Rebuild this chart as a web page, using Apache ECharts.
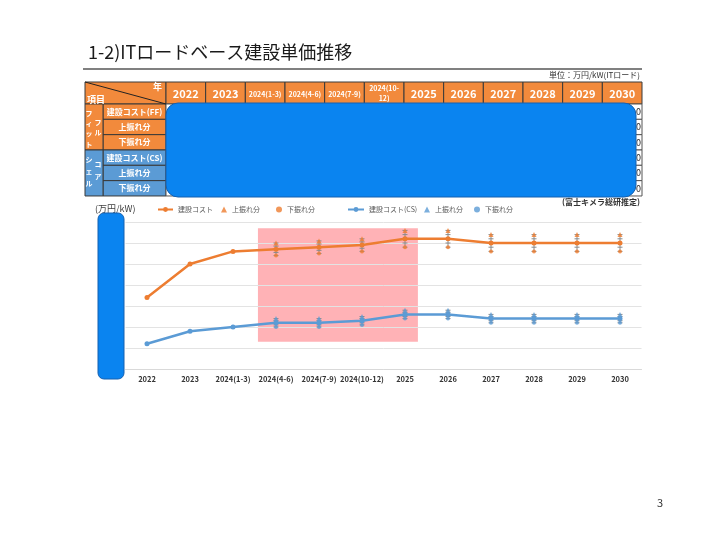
<!DOCTYPE html>
<html><head><meta charset="utf-8">
<script src="https://cdn.jsdelivr.net/npm/echarts@6/dist/echarts.min.js"></script>
<style>html,body{margin:0;padding:0;background:#fff}#c{width:720px;height:540px}</style>
</head><body><div id="c"></div>
<script>
const categories = ['2022','2023','2024(1-3)','2024(4-6)','2024(7-9)','2024(10-12)','2025','2026','2027','2028','2029','2030'];
const ffCost  = [170,250,280,285,290,295,310,310,300,300,300,300];
const ffUpper = [null,null,null,300,305,310,330,330,320,320,320,320];
const ffLower = [null,null,null,270,275,280,290,290,280,280,280,280];
const csCost  = [60,90,100,110,110,115,130,130,120,120,120,120];
const csUpper = [null,null,null,120,120,125,140,140,130,130,130,130];
const csLower = [null,null,null,100,100,105,120,120,110,110,110,110];
const yTicks = [0,50,100,150,200,250,300,350];
const tableHeaders = ['2022','2023','2024(1-3)','2024(4-6)','2024(7-9)','2024(10-12)','2025','2026','2027','2028','2029','2030'];
const rowLabels = ['建設コスト(FF)','上振れ分','下振れ分','建設コスト(CS)','上振れ分','下振れ分'];
const lastColText = ['0','0','0','0','0','0'];
const highlight = [[3, 6, 335, 65]];

const FONT = '"Noto Sans CJK JP", "Noto Sans", sans-serif';
const ORANGE = '#ED7D31', BLUE = '#5B9BD5';
const T_OR = '#F28A3C', T_BL = '#5B9BD5';

const chart = echarts.init(document.getElementById('c'));

// ---------- table graphics ----------
const g = [];
const tx0 = 85, tLabelX = 103, tBodyX = 166, tRight = 642, tTop = 82, tHeadH = 22, rowH = 15.33;
const colW = (tRight - tBodyX) / tableHeaders.length;
const border = '#3a3a3a';
g.push({type:'rect', z:10, shape:{x:tx0,y:tTop,width:tBodyX-tx0,height:tHeadH}, style:{fill:T_OR,stroke:border,lineWidth:1}});
g.push({type:'line', z:11, shape:{x1:tx0,y1:tTop,x2:tBodyX,y2:tTop+tHeadH}, style:{stroke:'#222',lineWidth:1}});
g.push({type:'text', z:12, style:{x:tBodyX-4,y:tTop+5,text:'年',fill:'#fff',font:'bold 9px '+FONT,textAlign:'right',textVerticalAlign:'middle'}});
g.push({type:'text', z:12, style:{x:tx0+2,y:tTop+tHeadH-4,text:'項目',fill:'#fff',font:'bold 9px '+FONT,textAlign:'left',textVerticalAlign:'middle'}});
tableHeaders.forEach((h,i)=>{
  const x = tBodyX + i*colW;
  g.push({type:'rect', z:10, shape:{x:x,y:tTop,width:colW,height:tHeadH}, style:{fill:T_OR,stroke:border,lineWidth:1}});
  const small = h.length > 4;
  if (h === '2024(10-12)') {
    g.push({type:'text', z:12, style:{x:x+colW/2,y:tTop+6,text:'2024(10-',fill:'#fff',font:'bold 7px '+FONT,textAlign:'center',textVerticalAlign:'middle'}});
    g.push({type:'text', z:12, style:{x:x+colW/2,y:tTop+16,text:'12)',fill:'#fff',font:'bold 7px '+FONT,textAlign:'center',textVerticalAlign:'middle'}});
  } else {
    g.push({type:'text', z:12, style:{x:x+colW/2,y:tTop+tHeadH/2+1,text:h,fill:'#fff',font:(small?'bold 7px ':'bold 11px ')+FONT,textAlign:'center',textVerticalAlign:'middle'}});
  }
});
rowLabels.forEach((r,i)=>{
  const y = tTop + tHeadH + i*rowH;
  const fill = i < 3 ? T_OR : T_BL;
  g.push({type:'rect', z:10, shape:{x:tLabelX,y:y,width:tBodyX-tLabelX,height:rowH}, style:{fill:fill,stroke:border,lineWidth:1}});
  g.push({type:'text', z:12, style:{x:(tLabelX+tBodyX)/2,y:y+rowH/2,text:r,fill:'#fff',font:'bold 8px '+FONT,textAlign:'center',textVerticalAlign:'middle'}});
  for (let c=0;c<tableHeaders.length;c++){
    g.push({type:'rect', z:10, shape:{x:tBodyX+c*colW,y:y,width:colW,height:rowH}, style:{fill:'#fff',stroke:'#555',lineWidth:1}});
  }
  g.push({type:'text', z:12, style:{x:tRight-1,y:y+rowH/2,text:lastColText[i],fill:'#222',font:'9px '+FONT,textAlign:'right',textVerticalAlign:'middle'}});
});
const bodyTop = tTop + tHeadH;
g.push({type:'rect', z:10, shape:{x:tx0,y:bodyTop,width:tLabelX-tx0,height:rowH*3}, style:{fill:T_OR,stroke:border,lineWidth:1}});
g.push({type:'rect', z:10, shape:{x:tx0,y:bodyTop+rowH*3,width:tLabelX-tx0,height:rowH*3}, style:{fill:T_BL,stroke:border,lineWidth:1}});
const vt = (chars, x, y0, step) => chars.forEach((ch,k)=>g.push({type:'text', z:12, style:{x:x,y:y0+k*step,text:ch,fill:'#fff',font:'bold 7px '+FONT,textAlign:'center',textVerticalAlign:'middle'}}));
vt(['フ','ィ','ッ','ト'], 89, bodyTop+9, 10.3);
vt(['フ','ル'], 98, bodyTop+18, 10.7);
vt(['シ','ェ','ル'], 89, bodyTop+55, 12);
vt(['コ','ア'], 98, bodyTop+60, 12.5);
g.push({type:'rect', z:20, shape:{x:166,y:103,width:470,height:94,r:12}, style:{fill:'#0A84F0',stroke:'#1560b0',lineWidth:1}});
g.push({type:'text', z:5, style:{x:88,y:52,text:'1-2)ITロードベース建設単価推移',fill:'#1a1a1a',font:'18px '+FONT,textAlign:'left',textVerticalAlign:'middle'}});
g.push({type:'line', z:5, shape:{x1:83,y1:69,x2:642,y2:69}, style:{stroke:'#808080',lineWidth:2}});
g.push({type:'text', z:5, style:{x:640,y:75,text:'単位：万円/kW(ITロード)',fill:'#333',font:'8px '+FONT,textAlign:'right',textVerticalAlign:'middle'}});
g.push({type:'text', z:5, style:{x:640,y:202,text:'(富士キメラ総研推定)',fill:'#333',font:'bold 8px '+FONT,textAlign:'right',textVerticalAlign:'middle'}});
g.push({type:'text', z:5, style:{x:95,y:209,text:'(万円/kW)',fill:'#404040',font:'9px '+FONT,textAlign:'left',textVerticalAlign:'middle'}});
g.push({type:'text', z:5, style:{x:660,y:503,text:'3',fill:'#333',font:'11px '+FONT,textAlign:'center',textVerticalAlign:'middle'}});
g.push({type:'rect', z:100, shape:{x:98,y:213,width:26,height:166,r:6}, style:{fill:'#0A84F0',stroke:'#1560b0',lineWidth:1}});

function errData(up, lo){ return categories.map((c,i)=> up[i]==null?null:[i, lo[i], up[i]]).filter(d=>d); }
function errRender(params, api){
  const i = api.value(0);
  const a = api.coord([i, api.value(1)]);
  const b = api.coord([i, api.value(2)]);
  const m = (a[1]+b[1])/2, st = {stroke:'#8a8a8a', lineWidth:1};
  const cap = y => ({type:'line', shape:{x1:a[0]-2.5,y1:y,x2:a[0]+2.5,y2:y}, style:st});
  return {type:'group', children:[
    {type:'line', shape:{x1:a[0],y1:a[1],x2:b[0],y2:b[1]}, style:st},
    cap(a[1]), cap(b[1]), cap((a[1]+m)/2), cap((b[1]+m)/2)
  ]};
}
function hlRender(params, api){
  const band = api.size([1,0])[0];
  const p0 = api.coord([api.value(0), api.value(2)]);
  const p1 = api.coord([api.value(1), api.value(3)]);
  const x0 = p0[0] - 0.42*band, x1 = p1[0] + 0.3*band;
  return {type:'rect', shape:{x:x0,y:p0[1],width:x1-x0,height:p1[1]-p0[1]}, style:{fill:'#FFB2B6'}};
}

const legendBase = (name, left, w, h) => ({data:[name], left:left, top:206, padding:0, itemWidth:w, itemHeight:h, itemGap:4,
  textStyle:{fontSize:7, color:'#595959', fontFamily:FONT}, formatter: n => n.replace(/\u200b/g,''), selectedMode:false});

chart.setOption({
  animation:false,
  textStyle:{fontFamily:FONT},
  graphic: g,
  legend: [
    legendBase('建設コスト', 157, 15, 6),
    legendBase('上振れ分', 221, 6, 6),
    legendBase('下振れ分', 276, 6, 6),
    legendBase('建設コスト(CS)', 347, 16, 6),
    legendBase('上振れ分\u200b', 424, 6, 6),
    legendBase('下振れ分\u200b', 474, 6, 6)
  ],
  grid:{left:125.5, right:78.5, top:222, bottom:171},
  xAxis:{type:'category', data:categories, boundaryGap:true,
    axisLine:{show:true, lineStyle:{color:'#d9d9d9'}}, axisTick:{show:false},
    axisLabel:{fontSize:7.5, fontWeight:'bold', color:'#333', margin:6, interval:0}},
  yAxis:{type:'value', min:yTicks[0], max:yTicks[yTicks.length-1], interval:yTicks[1]-yTicks[0],
    axisLabel:{show:false}, axisLine:{show:false}, axisTick:{show:false},
    splitLine:{lineStyle:{color:'#e3e3e3', width:1}}},
  series:[
    {type:'custom', name:'hl', z:-1, silent:true, renderItem:hlRender, data:highlight, encode:{x:[0,1], y:[2,3]}},
    {type:'custom', name:'errFF', z:3, silent:true, renderItem:errRender, data:errData(ffUpper, ffLower), encode:{x:0, y:[1,2]}},
    {type:'custom', name:'errCS', z:3, silent:true, renderItem:errRender, data:errData(csUpper, csLower), encode:{x:0, y:[1,2]}},
    {type:'line', name:'建設コスト', data:ffCost, z:4, color:ORANGE, lineStyle:{width:2.5, color:ORANGE}, symbol:'circle', symbolSize:5, itemStyle:{color:ORANGE}},
    {type:'scatter', name:'上振れ分', data:ffUpper, z:5, symbol:'triangle', symbolSize:5, itemStyle:{color:ORANGE}},
    {type:'scatter', name:'下振れ分', data:ffLower, z:5, symbol:'circle', symbolSize:4, itemStyle:{color:ORANGE}},
    {type:'line', name:'建設コスト(CS)', data:csCost, z:4, color:BLUE, lineStyle:{width:2.5, color:BLUE}, symbol:'circle', symbolSize:5, itemStyle:{color:BLUE}},
    {type:'scatter', name:'上振れ分\u200b', data:csUpper, z:5, symbol:'triangle', symbolSize:5, itemStyle:{color:BLUE}},
    {type:'scatter', name:'下振れ分\u200b', data:csLower, z:5, symbol:'circle', symbolSize:4, itemStyle:{color:BLUE}}
  ]
});
</script></body></html>
